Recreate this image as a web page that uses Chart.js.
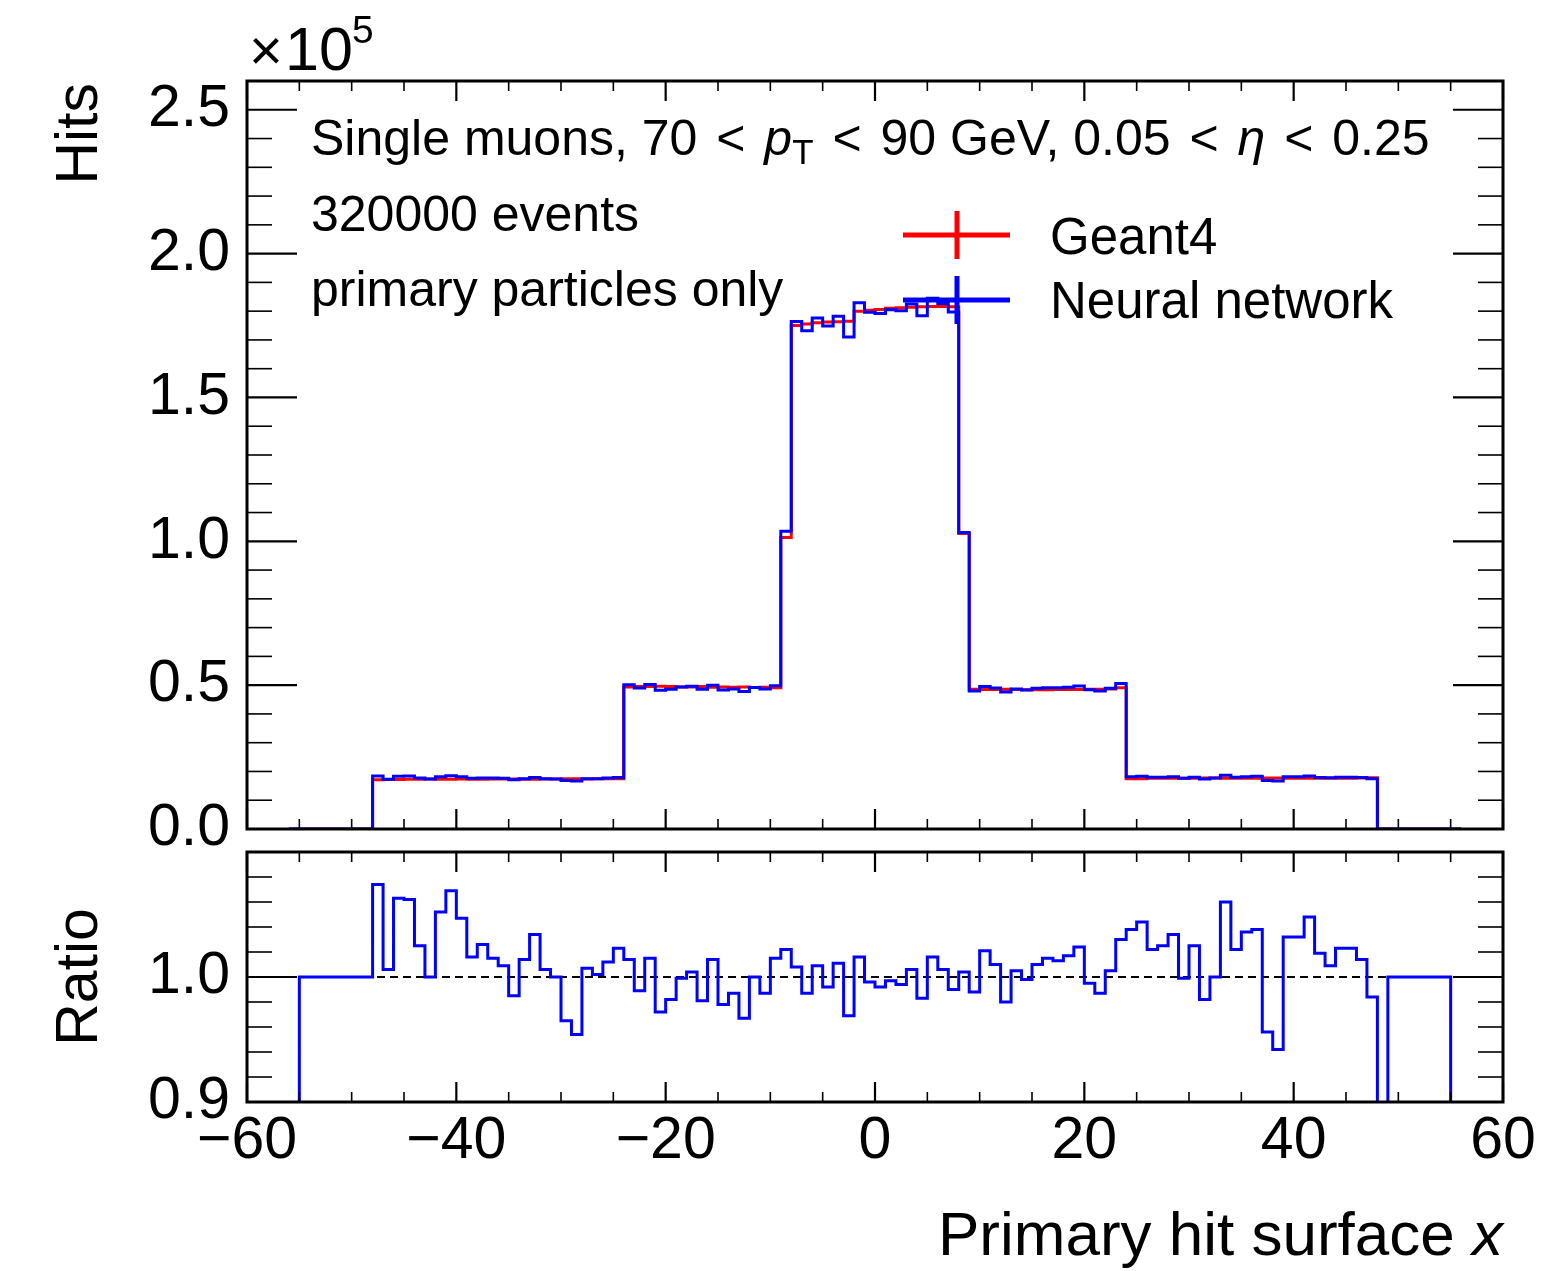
<!DOCTYPE html>
<html>
<head>
<meta charset="utf-8">
<script src="https://cdn.jsdelivr.net/npm/chart.js@4.4.1/dist/chart.umd.min.js"></script>
<style>
  html, body { margin: 0; padding: 0; background: #fff; overflow: hidden; }
  #wrap { position: relative; width: 1548px; height: 1271px; }
  canvas { position: absolute; left: 0; }
  #mainChart { top: 0; }
  #ratioChart { top: 840px; }
</style>
</head>
<body>
<div id="wrap">
  <canvas id="mainChart" width="1548" height="880"></canvas>
  <canvas id="ratioChart" width="1548" height="431"></canvas>
</div>
<script>
// bin edges of the histogram (1 unit wide bins)
const binEdges = [-56,-55,-54,-53,-52,-51,-50,-49,-48,-47,-46,-45,-44,-43,-42,-41,-40,-39,-38,-37,-36,-35,-34,-33,-32,-31,-30,-29,-28,-27,-26,-25,-24,-23,-22,-21,-20,-19,-18,-17,-16,-15,-14,-13,-12,-11,-10,-9,-8,-7,-6,-5,-4,-3,-2,-1,0,1,2,3,4,5,6,7,8,9,10,11,12,13,14,15,16,17,18,19,20,21,22,23,24,25,26,27,28,29,30,31,32,33,34,35,36,37,38,39,40,41,42,43,44,45,46,47,48,49,50,51,52,53,54,55,56];

// hits per bin, in units of 1e5
const geant4 = [
  0,0,0,0,0,0,0,0,
  0.171,0.172,0.172,0.173,0.173,0.174,0.173,0.173,0.174,0.173,0.173,0.174,0.174,0.174,0.173,0.173,0.174,0.174,0.175,0.175,0.174,0.175,0.175,0.175,
  0.494,0.495,0.495,0.496,0.495,0.494,0.494,0.495,0.493,0.494,0.493,0.494,0.492,0.493,0.491,
  1.013,
  1.750,1.755,1.760,1.762,1.763,1.765,1.800,1.803,1.806,1.810,1.812,1.814,1.815,1.816,1.816,1.815,
  1.027,
  0.486,0.485,0.485,0.486,0.485,0.484,0.484,0.484,0.485,0.485,0.485,0.486,0.486,0.487,0.491,
  0.175,0.175,0.176,0.176,0.176,0.176,0.176,0.177,0.177,0.176,0.176,0.176,0.176,0.177,0.177,0.176,0.176,0.176,0.176,0.176,0.176,0.176,0.177,0.178,
  0,0,0,0,0,0,0,0
];

const neuralNet = [
  0,0,0,0,0,0,0,0,
  0.184,0.173,0.183,0.184,0.177,0.174,0.182,0.185,0.182,0.176,0.177,0.177,0.176,0.171,0.175,0.179,0.175,0.174,0.169,0.167,0.175,0.175,0.177,0.179,
  0.501,0.490,0.502,0.482,0.486,0.494,0.496,0.486,0.500,0.483,0.487,0.478,0.492,0.487,0.498,
  1.035,
  1.764,1.732,1.776,1.748,1.782,1.710,1.829,1.796,1.792,1.805,1.801,1.825,1.784,1.845,1.827,1.797,
  1.031,
  0.480,0.495,0.490,0.476,0.487,0.483,0.489,0.491,0.491,0.493,0.497,0.484,0.480,0.489,0.506,
  0.182,0.183,0.180,0.180,0.182,0.176,0.180,0.174,0.177,0.187,0.180,0.182,0.183,0.169,0.167,0.182,0.182,0.184,0.179,0.178,0.180,0.180,0.179,0.175,
  0,0,0,0,0,0,0,0
];

// neural network / geant4 (empty bins shown as 1, off-scale ones as 0)
const ratio = [
  0,1,1,1,1,1,1,1,
  1.074,1.006,1.063,1.062,1.025,1.000,1.052,1.069,1.047,1.016,1.026,1.015,1.009,0.985,1.014,1.034,1.006,1.000,0.965,0.954,1.007,1.002,1.012,1.023,
  1.014,0.989,1.015,0.972,0.982,0.999,1.004,0.981,1.014,0.978,0.987,0.967,1.000,0.987,1.015,
  1.022,
  1.008,0.987,1.009,0.992,1.011,0.969,1.016,0.996,0.992,0.997,0.994,1.006,0.983,1.016,1.006,0.990,
  1.004,
  0.988,1.021,1.010,0.980,1.005,0.998,1.010,1.015,1.013,1.017,1.024,0.995,0.987,1.005,1.030,
  1.038,1.044,1.022,1.025,1.034,0.999,1.025,0.982,1.000,1.060,1.022,1.036,1.038,0.956,0.942,1.032,1.032,1.048,1.019,1.009,1.023,1.023,1.014,0.984,
  0,1,1,1,1,1,1,0
];

const xTicks = [-60, -40, -20, 0, 20, 40, 60];
const hitsTicks = [0.0, 0.5, 1.0, 1.5, 2.0, 2.5];
const ratioTicks = [0.9, 1.0];

const FONT = "'Liberation Sans', Arial, sans-serif";
Chart.defaults.font.family = FONT;
Chart.defaults.color = '#000';

// turn per-bin values into step points (left edges + closing right edge)
function histPoints(values) {
  const pts = values.map((v, i) => ({ x: binEdges[i], y: v }));
  pts.push({ x: binEdges[binEdges.length - 1], y: values[values.length - 1] });
  return pts;
}

function line(ctx, x1, y1, x2, y2) {
  ctx.beginPath();
  ctx.moveTo(x1, y1);
  ctx.lineTo(x2, y2);
  ctx.stroke();
}

// frame + inward ticks on all four sides
function makeFrameTicks(yMin, yMax, yMinor, perMajor) {
  return {
    id: 'frameTicks',
    afterDraw(chart) {
      const { ctx, chartArea: a, scales } = chart;
      ctx.save();
      ctx.strokeStyle = '#000';
      for (let v = -60; v <= 60; v += 5) {
        const px = scales.x.getPixelForValue(v);
        const major = v % 20 === 0;
        ctx.lineWidth = major ? 2.2 : 1.6;
        const len = major ? 20 : 10;
        line(ctx, px, a.bottom, px, a.bottom - len);
        line(ctx, px, a.top, px, a.top + len);
      }
      const n = Math.round((yMax - yMin) / yMinor);
      for (let i = 0; i <= n; i++) {
        const py = scales.y.getPixelForValue(yMin + i * yMinor);
        const major = i % perMajor === 0;
        ctx.lineWidth = major ? 2.2 : 1.6;
        const len = major ? 50 : 25;
        line(ctx, a.left, py, a.left + len, py);
        line(ctx, a.right, py, a.right - len, py);
      }
      ctx.lineWidth = 3;
      ctx.strokeRect(a.left, a.top, a.right - a.left, a.bottom - a.top);
      ctx.restore();
    }
  };
}

// draws a run of text pieces with their own fonts; p[2] = vertical shift, p[3] = extra gap after
function drawRich(ctx, x, y, parts) {
  let cx = x;
  parts.forEach(p => {
    ctx.font = p[1];
    ctx.fillText(p[0], cx, y + (p[2] || 0));
    cx += ctx.measureText(p[0]).width + (p[3] || 0);
  });
}

const mainText = {
  id: 'mainText',
  afterDraw(chart) {
    const ctx = chart.ctx;
    ctx.save();
    ctx.fillStyle = '#000';
    ctx.textBaseline = 'alphabetic';
    ctx.textAlign = 'left';

    // offset text x10^5
    ctx.font = `58px ${FONT}`;
    ctx.fillText('\u00d7', 249, 70);
    ctx.font = `61px ${FONT}`;
    ctx.fillText('10', 285, 70);
    ctx.font = `39px ${FONT}`;
    ctx.fillText('5', 352, 43);

    // annotation
    const N = `50px ${FONT}`, I = `italic 50px ${FONT}`, S = `35px ${FONT}`;
    const g = 5;
    drawRich(ctx, 311, 155, [
      ['Single muons, 70', N, 0, g], [' < ', N, 0, g], ['p', I], ['T', S, 9, g],
      [' < ', N, 0, g], ['90 GeV, 0.05', N, 0, g], [' < ', N, 0, g], ['\u03b7', I, 0, g],
      [' < ', N, 0, g], ['0.25', N]
    ]);
    ctx.font = N;
    ctx.fillText('320000 events', 311, 231);
    ctx.fillText('primary particles only', 311, 306);

    // legend
    ctx.font = `51px ${FONT}`;
    [['#ff0000', 235, 'Geant4', 254], ['#0000ff', 300, 'Neural network', 318]].forEach(l => {
      ctx.strokeStyle = l[0];
      ctx.lineWidth = 5;
      line(ctx, 903, l[1], 1010, l[1]);
      line(ctx, 957, l[1] - 24, 957, l[1] + 24);
      ctx.fillText(l[2], 1050, l[3]);
    });

    // y title
    ctx.font = `59px ${FONT}`;
    ctx.translate(97, 83);
    ctx.rotate(-Math.PI / 2);
    ctx.textAlign = 'right';
    ctx.fillText('Hits', 0, 0);
    ctx.restore();
  }
};

const ratioText = {
  id: 'ratioText',
  afterDraw(chart) {
    const ctx = chart.ctx;
    ctx.save();
    ctx.fillStyle = '#000';
    ctx.textBaseline = 'alphabetic';
    // x title, right aligned to the axis end
    const a = chart.chartArea;
    ctx.font = `italic 62px ${FONT}`;
    const wx = ctx.measureText('x').width;
    ctx.fillText('x', a.right - wx, 415);
    ctx.font = `62px ${FONT}`;
    const wt = ctx.measureText('Primary hit surface ').width;
    ctx.fillText('Primary hit surface ', a.right - wx - wt, 415);
    // y title
    ctx.font = `59px ${FONT}`;
    ctx.translate(97, (a.top + a.bottom) / 2);
    ctx.rotate(-Math.PI / 2);
    ctx.textAlign = 'center';
    ctx.fillText('Ratio', 0, 0);
    ctx.restore();
  }
};

const lineStyle = { pointRadius: 0, borderWidth: 3, stepped: true, fill: false, borderJoinStyle: 'miter', borderCapStyle: 'butt' };

new Chart(document.getElementById('mainChart'), {
  type: 'line',
  data: {
    datasets: [
      Object.assign({ label: 'Neural network', data: histPoints(neuralNet), borderColor: '#0000ff' }, lineStyle),
      Object.assign({ label: 'Geant4', data: histPoints(geant4), borderColor: '#ff0000' }, lineStyle)
    ]
  },
  options: {
    responsive: false,
    animation: false,
    devicePixelRatio: 1,
    events: [],
    layout: { padding: { left: 0, right: 45, top: 81, bottom: 51 } },
    scales: {
      x: { type: 'linear', min: -60, max: 60, display: false },
      y: {
        type: 'linear', min: 0, max: 2.6,
        grid: { display: false, drawTicks: false },
        border: { display: false },
        afterBuildTicks: s => { s.ticks = hitsTicks.map(v => ({ value: v })); },
        afterFit: s => { s.width = 247; s.paddingTop = 0; s.paddingBottom = 0; },
        ticks: { padding: 17, font: { size: 59 }, callback: v => v.toFixed(1) }
      }
    },
    plugins: { legend: { display: false }, tooltip: { enabled: false } }
  },
  plugins: [makeFrameTicks(0, 2.6, 0.1, 5), mainText]
});

new Chart(document.getElementById('ratioChart'), {
  type: 'line',
  data: {
    datasets: [
      Object.assign({ label: 'Ratio', data: histPoints(ratio), borderColor: '#0000ff' }, lineStyle),
      { label: 'unity', data: [{ x: -60, y: 1 }, { x: 60, y: 1 }], borderColor: '#000', borderWidth: 2, borderDash: [8, 5], pointRadius: 0, fill: false }
    ]
  },
  options: {
    responsive: false,
    animation: false,
    devicePixelRatio: 1,
    events: [],
    layout: { padding: { left: 0, right: 45, top: 12, bottom: 0 } },
    scales: {
      x: {
        type: 'linear', min: -60, max: 60,
        grid: { display: false, drawTicks: false },
        border: { display: false },
        afterBuildTicks: s => { s.ticks = xTicks.map(v => ({ value: v })); },
        afterFit: s => { s.height = 169; s.paddingLeft = 0; s.paddingRight = 0; },
        ticks: { padding: 4, maxRotation: 0, autoSkip: false, font: { size: 59 },
                 callback: v => v < 0 ? '\u2212' + Math.abs(v) : String(v) }
      },
      y: {
        type: 'linear', min: 0.9, max: 1.1,
        grid: { display: false, drawTicks: false },
        border: { display: false },
        afterBuildTicks: s => { s.ticks = ratioTicks.map(v => ({ value: v })); },
        afterFit: s => { s.width = 247; s.paddingTop = 0; s.paddingBottom = 0; },
        ticks: { padding: 17, font: { size: 59 }, callback: v => v.toFixed(1) }
      }
    },
    plugins: { legend: { display: false }, tooltip: { enabled: false } }
  },
  plugins: [makeFrameTicks(0.9, 1.1, 0.02, 5), ratioText]
});
</script>
</body>
</html>
